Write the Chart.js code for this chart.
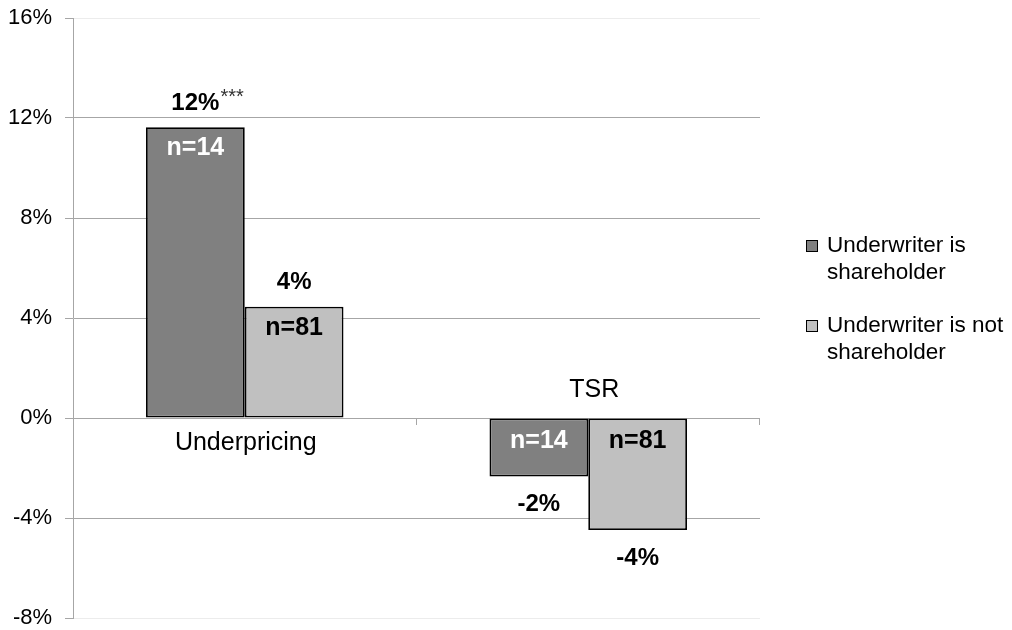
<!DOCTYPE html>
<html>
<head>
<meta charset="utf-8">
<script src="https://cdn.jsdelivr.net/npm/chart.js@4.4.1/dist/chart.umd.min.js"></script>
<style>
  html, body { margin: 0; padding: 0; background: #ffffff; }
  #wrap { width: 1012px; height: 630px; }
</style>
</head>
<body>
<div id="wrap"><canvas id="c" width="1012" height="630"></canvas></div>
<script>
// Categories and series
const categories = ['Underpricing', 'TSR'];
const seriesNames = [['Underwriter is', 'shareholder'], ['Underwriter is not', 'shareholder']];
const shareholderValues = [11.63, -2.34];
const nonShareholderValues = [4.45, -4.48];
const shareholderCounts = [14, 14];
const nonShareholderCounts = [81, 81];
const shareholderSignificance = ['***', ''];
const nonShareholderSignificance = ['', ''];
// Axis ticks
const yTicks = [-8, -4, 0, 4, 8, 12, 16];

const FONT = "'Liberation Sans', Arial, sans-serif";
const DARK = '#808080';
const LIGHT = '#c0c0c0';
const GRID = '#a6a6a6';

const counts = [shareholderCounts, nonShareholderCounts];
const stars = [shareholderSignificance, nonShareholderSignificance];
const countColors = ['#ffffff', '#000000'];

// Value labels, sample sizes and significance stars on each bar
const barLabels = {
  id: 'barLabels',
  afterDatasetsDraw(chart) {
    const ctx = chart.ctx;
    ctx.save();
    ctx.textAlign = 'center';
    ctx.textBaseline = 'middle';
    chart.data.datasets.forEach((ds, di) => {
      const meta = chart.getDatasetMeta(di);
      meta.data.forEach((bar, i) => {
        const v = ds.data[i];
        const txt = Math.round(v) + '%';
        const nTxt = 'n=' + counts[di][i];
        let vy, ny;
        if (v >= 0) {
          vy = bar.y - 24;
          ny = bar.y + 21;
        } else {
          vy = bar.y + 28;
          ny = bar.base + 23;
        }
        ctx.font = 'bold 24px ' + FONT;
        ctx.fillStyle = '#000000';
        ctx.fillText(txt, bar.x, vy);
        if (stars[di][i]) {
          const w = ctx.measureText(txt).width;
          ctx.font = '20px ' + FONT;
          ctx.fillStyle = '#333333';
          ctx.textAlign = 'left';
          ctx.fillText(stars[di][i], bar.x + w / 2 + 1, vy - 6);
          ctx.textAlign = 'center';
        }
        ctx.font = 'bold 25px ' + FONT;
        ctx.fillStyle = countColors[di];
        ctx.fillText(nTxt, bar.x, ny);
      });
    });
    ctx.restore();
  }
};

// Category names sit beside the zero line, opposite the bars
const categoryLabels = {
  id: 'categoryLabels',
  afterDatasetsDraw(chart) {
    const ctx = chart.ctx;
    const xs = chart.scales.x;
    const ys = chart.scales.y;
    const zero = ys.getPixelForValue(0);
    ctx.save();
    ctx.font = '25px ' + FONT;
    ctx.fillStyle = '#000000';
    ctx.textAlign = 'center';
    ctx.textBaseline = 'middle';
    categories.forEach((c, i) => {
      const x = xs.getPixelForValue(i);
      const pos = shareholderValues[i] >= 0 || nonShareholderValues[i] >= 0;
      ctx.fillText(c, x + (pos ? 1 : 6), pos ? zero + 25 : zero - 28);
    });
    // category boundary tick marks on the zero line
    ctx.strokeStyle = GRID;
    ctx.lineWidth = 1;
    const area = chart.chartArea;
    const step = (area.right - area.left) / categories.length;
    for (let k = 1; k <= categories.length; k++) {
      const x = Math.round(area.left + step * k) - 0.5;
      ctx.beginPath();
      ctx.moveTo(x, Math.round(zero));
      ctx.lineTo(x, Math.round(zero) + 7);
      ctx.stroke();
    }
    ctx.restore();
  }
};

// Legend at the right with wrapped series names
const sideLegend = {
  id: 'sideLegend',
  afterDraw(chart) {
    const ctx = chart.ctx;
    ctx.save();
    ctx.font = '22.5px ' + FONT;
    ctx.textBaseline = 'middle';
    ctx.textAlign = 'left';
    const rowsY = [246, 326];
    chart.data.datasets.forEach((ds, di) => {
      const y0 = rowsY[di];
      ctx.fillStyle = ds.backgroundColor;
      ctx.fillRect(806, y0 - 6, 12, 12);
      ctx.strokeStyle = '#000000';
      ctx.lineWidth = 1;
      ctx.strokeRect(806.5, y0 - 5.5, 11, 11);
      ctx.fillStyle = '#000000';
      seriesNames[di].forEach((line, li) => {
        ctx.fillText(line, 827, y0 + li * 27);
      });
    });
    ctx.restore();
  }
};

new Chart(document.getElementById('c'), {
  type: 'bar',
  data: {
    labels: categories,
    datasets: [
      {
        label: seriesNames[0].join(' '),
        data: shareholderValues,
        backgroundColor: DARK,
        borderColor: '#000000',
        borderWidth: 1.8,
        borderSkipped: false,
        barPercentage: 1.0,
        categoryPercentage: 0.575
      },
      {
        label: seriesNames[1].join(' '),
        data: nonShareholderValues,
        backgroundColor: LIGHT,
        borderColor: '#000000',
        borderWidth: 1.8,
        borderSkipped: false,
        barPercentage: 1.0,
        categoryPercentage: 0.575
      }
    ]
  },
  options: {
    responsive: false,
    devicePixelRatio: 1,
    animation: false,
    layout: { padding: { top: 18, bottom: 12, left: 0, right: 252 } },
    plugins: {
      legend: { display: false },
      tooltip: { enabled: false }
    },
    scales: {
      x: { display: false },
      y: {
        min: -8,
        max: 16,
        afterFit(scale) {
          scale.width = 73;
          scale.paddingTop = 0;
          scale.paddingBottom = 0;
        },
        afterBuildTicks(scale) { scale.ticks = yTicks.map(v => ({ value: v })); },
        ticks: {
          padding: 13,
          color: '#000000',
          font: { family: FONT, size: 22 },
          callback: v => v + '%'
        },
        grid: {
          drawTicks: true,
          tickLength: 8,
          tickColor: GRID,
          color: ctx => (ctx.tick && (ctx.tick.value === 16 || ctx.tick.value === -8)) ? '#ececec' : GRID,
          lineWidth: 1
        },
        border: { display: true, color: GRID, width: 1 }
      }
    }
  },
  plugins: [barLabels, categoryLabels, sideLegend]
});
</script>
</body>
</html>
